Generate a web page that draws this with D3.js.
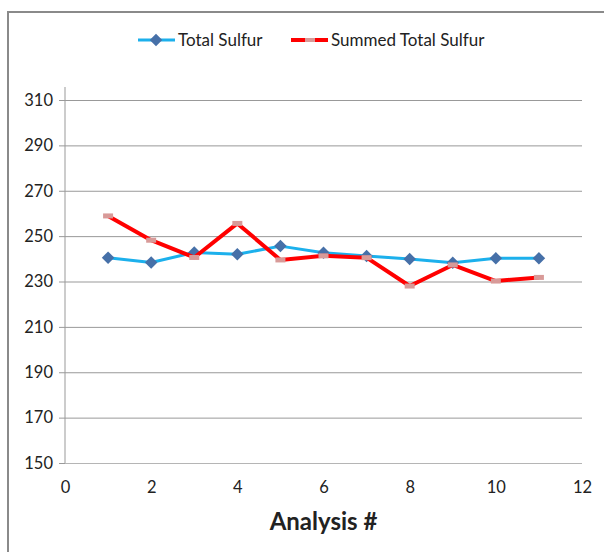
<!DOCTYPE html>
<html>
<head>
<meta charset="utf-8">
<script src="https://cdn.jsdelivr.net/npm/d3@7"></script>
<style>
  html, body { margin: 0; padding: 0; background: #fff; }
  svg { display: block; }
  text { font-family: Lato, "Open Sans", sans-serif; fill: #222; }
</style>
</head>
<body>
<svg id="chart" width="604" height="552"></svg>
<script>
// Analysis runs and sulfur results
const analysis = [1, 2, 3, 4, 5, 6, 7, 8, 9, 10, 11];
const totalSulfur = [240.5, 238.4, 242.8, 242.0, 245.6, 242.7, 241.2, 239.9, 238.3, 240.2, 240.2];
const summedTotalSulfur = [258.9, 248.2, 240.6, 255.6, 239.5, 241.3, 240.5, 228.0, 237.3, 230.2, 231.8];
const xTicks = [0, 2, 4, 6, 8, 10, 12];
const yTicks = [150, 170, 190, 210, 230, 250, 270, 290, 310];
const seriesNames = ["Total Sulfur", "Summed Total Sulfur"];

const svg = d3.select("#chart");

// Outer chart frame
svg.append("path")
  .attr("d", "M8,560 L8,12 L610,12")
  .attr("fill", "none")
  .attr("stroke", "#8a8a8a")
  .attr("stroke-width", 2);

const x = d3.scaleLinear().domain([0, 12]).range([65, 582]);
const y = d3.scaleLinear().domain([150, 310]).range([463, 100]);

// Horizontal gridlines with short outward ticks
const yAxis = d3.axisLeft(y).tickValues(yTicks).tickSize(6).tickPadding(6);
const gy = svg.append("g").attr("transform", `translate(${x(0)},0)`).call(yAxis);
gy.select(".domain").remove();
gy.selectAll(".tick line").attr("stroke", "#999");
gy.selectAll(".tick").append("line")
  .attr("x1", 0).attr("x2", x(12) - x(0))
  .attr("stroke", d => d === 150 ? "#b5b5b5" : "#999")
  .attr("stroke-width", 1);
gy.selectAll(".tick text").attr("font-size", 16.5).attr("fill", "#1a1a1a");

// Vertical axis line
svg.append("line")
  .attr("x1", x(0)).attr("x2", x(0))
  .attr("y1", y(150)).attr("y2", y(310) - 13)
  .attr("stroke", "#999");

// X axis labels
const xAxis = d3.axisBottom(x).tickValues(xTicks).tickSize(0).tickPadding(18);
const gx = svg.append("g").attr("transform", `translate(0,${y(150)})`).call(xAxis);
gx.select(".domain").remove();
gx.selectAll(".tick text").attr("font-size", 16.5).attr("fill", "#1a1a1a");

svg.append("text")
  .attr("x", (x(0) + x(12)) / 2)
  .attr("y", 530)
  .attr("text-anchor", "middle")
  .attr("font-size", 24)
  .attr("font-weight", "bold")
  .attr("fill", "#111")
  .text("Analysis #");

const line = d3.line().x((d, i) => x(analysis[i])).y(d => y(d));

// Total Sulfur series
svg.append("path")
  .datum(totalSulfur)
  .attr("d", line)
  .attr("fill", "none")
  .attr("stroke", "#1cb0ec")
  .attr("stroke-width", 3)
  .attr("stroke-linejoin", "round");

const diamond = d3.symbol().type(d3.symbolDiamond2).size(100);
svg.append("g").selectAll("path")
  .data(totalSulfur)
  .join("path")
  .attr("d", diamond)
  .attr("transform", (d, i) => `translate(${x(analysis[i])},${y(d)})`)
  .attr("fill", "#4670a8");

// Summed Total Sulfur series
svg.append("path")
  .datum(summedTotalSulfur)
  .attr("d", line)
  .attr("fill", "none")
  .attr("stroke", "#ff0000")
  .attr("stroke-width", 4)
  .attr("stroke-linejoin", "round");

svg.append("g").selectAll("rect")
  .data(summedTotalSulfur)
  .join("rect")
  .attr("x", (d, i) => x(analysis[i]) - 5)
  .attr("y", d => y(d) - 2.5)
  .attr("width", 10)
  .attr("height", 5)
  .attr("fill", "#d89a98");

// Legend
const lg = svg.append("g");
lg.append("line").attr("x1", 138).attr("x2", 175).attr("y1", 40).attr("y2", 40)
  .attr("stroke", "#1cb0ec").attr("stroke-width", 3);
lg.append("path").attr("d", diamond)
  .attr("transform", "translate(156,40)").attr("fill", "#4670a8");
lg.append("text").attr("x", 178).attr("y", 46).attr("font-size", 17).text(seriesNames[0]);

lg.append("line").attr("x1", 291).attr("x2", 328).attr("y1", 40).attr("y2", 40)
  .attr("stroke", "#ff0000").attr("stroke-width", 4);
lg.append("rect").attr("x", 305).attr("y", 38).attr("width", 10).attr("height", 4)
  .attr("fill", "#d89a98");
lg.append("text").attr("x", 331).attr("y", 46).attr("font-size", 17).text(seriesNames[1]);
</script>
</body>
</html>
